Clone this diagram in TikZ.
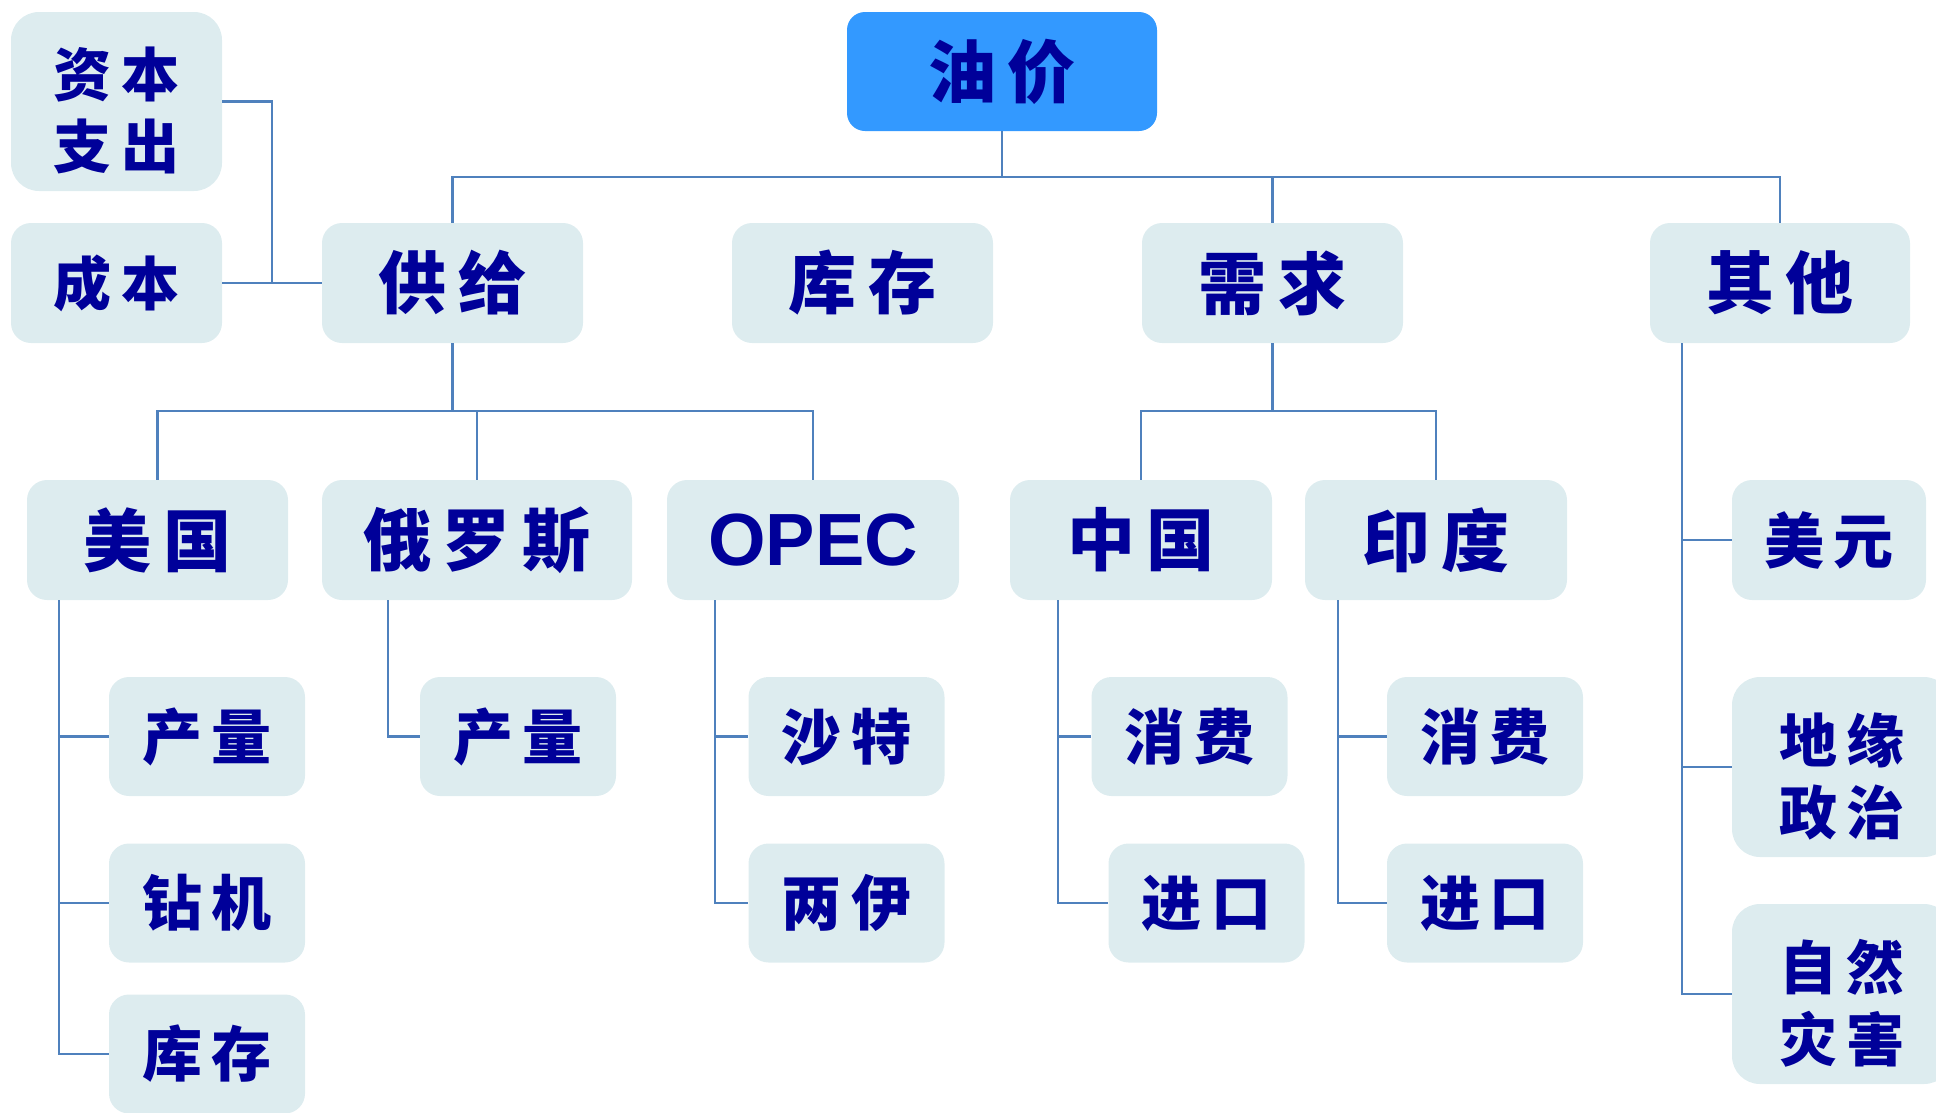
\documentclass[tikz,border=0pt]{standalone}
\usepackage{fontspec}
\newfontfamily\cjk{Noto Sans CJK SC}
\newfontfamily\lat{Liberation Sans}
\usetikzlibrary{calc}
\definecolor{boxfill}{HTML}{DDECEF}
\definecolor{txt}{HTML}{000099}
\definecolor{linec}{HTML}{4F81BD}
\definecolor{topfill}{HTML}{3399FF}
\newcommand\twolines[2]{\raisebox{-17pt}[\height][\depth]{\begin{tabular}{@{}c@{}}#1\\#2\end{tabular}}}
\begin{document}
\begin{tikzpicture}[x=1pt,y=-1pt,
  box/.style={fill=boxfill, rounded corners=20pt, inner sep=0pt, text=txt,
    font=\cjk\bfseries\fontsize{68}{72}\selectfont, align=center,
    minimum height=120pt},
  small/.style={font=\cjk\bfseries\fontsize{60}{72}\selectfont},
  two/.style={font=\cjk\bfseries\fontsize{58}{72}\selectfont, minimum height=180pt, rounded corners=28pt},
  conn/.style={draw=linec, line width=2.5pt}]
\path[use as bounding box, clip] (0,0) rectangle (1936,1112);
% top
\node[box, fill=topfill, rounded corners=18pt, minimum width=310pt, minimum height=119pt] (youjia) at (1002,71.5) {油\,价};
% left extras
\node[box, two, minimum width=211pt, minimum height=179pt] (zbzc) at (116.5,101.5) {\twolines{资\,本}{支\,出}};
\node[box, font=\cjk\bfseries\fontsize{58}{72}\selectfont, minimum width=211pt] (chengben) at (116.5,283) {成\,本};
% level 1
\node[box, minimum width=261pt] (gongji) at (452.5,283) {供\,给};
\node[box, minimum width=261pt] (kucun) at (862.5,283) {库\,存};
\node[box, minimum width=261pt] (xuqiu) at (1272.5,283) {需\,求};
\node[box, minimum width=260pt] (qita) at (1780,283) {其\,他};
% level 2
\node[box, minimum width=261pt] (us) at (157.5,540) {美\,国};
\node[box, minimum width=310pt] (ru) at (477,540) {俄\,罗\,斯};
\node[box, minimum width=292pt, font=\lat\bfseries\fontsize{74}{80}\selectfont] (opec) at (813,540) {OPEC};
\node[box, minimum width=262pt] (cn) at (1141,540) {中\,国};
\node[box, minimum width=262pt] (india) at (1436,540) {印\,度};
% level 3
\node[box, small, minimum width=196pt, minimum height=119pt] (usprod) at (207,736.5) {产\,量};
\node[box, small, minimum width=196pt, minimum height=119pt] (usrig) at (207,903) {钻\,机};
\node[box, small, minimum width=196pt, minimum height=119pt] (usinv) at (207,1054) {库\,存};
\node[box, small, minimum width=196pt, minimum height=119pt] (ruprod) at (518,736.5) {产\,量};
\node[box, small, minimum width=196pt, minimum height=119pt] (saudi) at (846.5,736.5) {沙\,特};
\node[box, small, minimum width=196pt, minimum height=119pt] (iran) at (846.5,903) {两\,伊};
\node[box, small, minimum width=196pt, minimum height=119pt] (cncons) at (1189.5,736.5) {消\,费};
\node[box, small, minimum width=196pt, minimum height=119pt] (cnimp) at (1206.5,903) {进\,口};
\node[box, small, minimum width=196pt, minimum height=119pt] (incons) at (1485,736.5) {消\,费};
\node[box, small, minimum width=196pt, minimum height=119pt] (inimp) at (1485,903) {进\,口};
\node[box, small, minimum width=194pt] (usd) at (1829,540) {美\,元};
\node[box, two, minimum width=220pt] (geo) at (1842,767) {\twolines{地\,缘}{政\,治}};
\node[box, two, minimum width=220pt] (disaster) at (1842,994) {\twolines{自\,然}{灾\,害}};
% connectors
\draw[conn] (youjia.south) -- ++(0,46) -| (gongji.north);
\draw[conn] (youjia.south) -- ++(0,46) -| (xuqiu.north);
\draw[conn] (youjia.south) -- ++(0,46) -| (qita.north);
\draw[conn] (zbzc.east) -| ($(chengben.east)!.5!(gongji.west)$) -- (gongji.west);
\draw[conn] (chengben.east) -- (gongji.west);
\draw[conn] (gongji.south) -- ++(0,68) -| (us.north);
\draw[conn] (gongji.south) -- ++(0,68) -| (ru.north);
\draw[conn] (gongji.south) -- ++(0,68) -| (opec.north);
\draw[conn] (xuqiu.south) -- ++(0,68) -| (cn.north);
\draw[conn] (xuqiu.south) -- ++(0,68) -| (india.north);
\draw[conn] ([xshift=32pt]us.south west) |- (usprod.west);
\draw[conn] ([xshift=32pt]us.south west) |- (usrig.west);
\draw[conn] ([xshift=32pt]us.south west) |- (usinv.west);
\draw[conn] ([xshift=66pt]ru.south west) |- (ruprod.west);
\draw[conn] ([xshift=48pt]opec.south west) |- (saudi.west);
\draw[conn] ([xshift=48pt]opec.south west) |- (iran.west);
\draw[conn] ([xshift=48pt]cn.south west) |- (cncons.west);
\draw[conn] ([xshift=48pt]cn.south west) |- (cnimp.west);
\draw[conn] ([xshift=33pt]india.south west) |- (incons.west);
\draw[conn] ([xshift=33pt]india.south west) |- (inimp.west);
\draw[conn] ([xshift=32pt]qita.south west) |- (usd.west);
\draw[conn] ([xshift=32pt]qita.south west) |- (geo.west);
\draw[conn] ([xshift=32pt]qita.south west) |- (disaster.west);
\end{tikzpicture}
\end{document}
